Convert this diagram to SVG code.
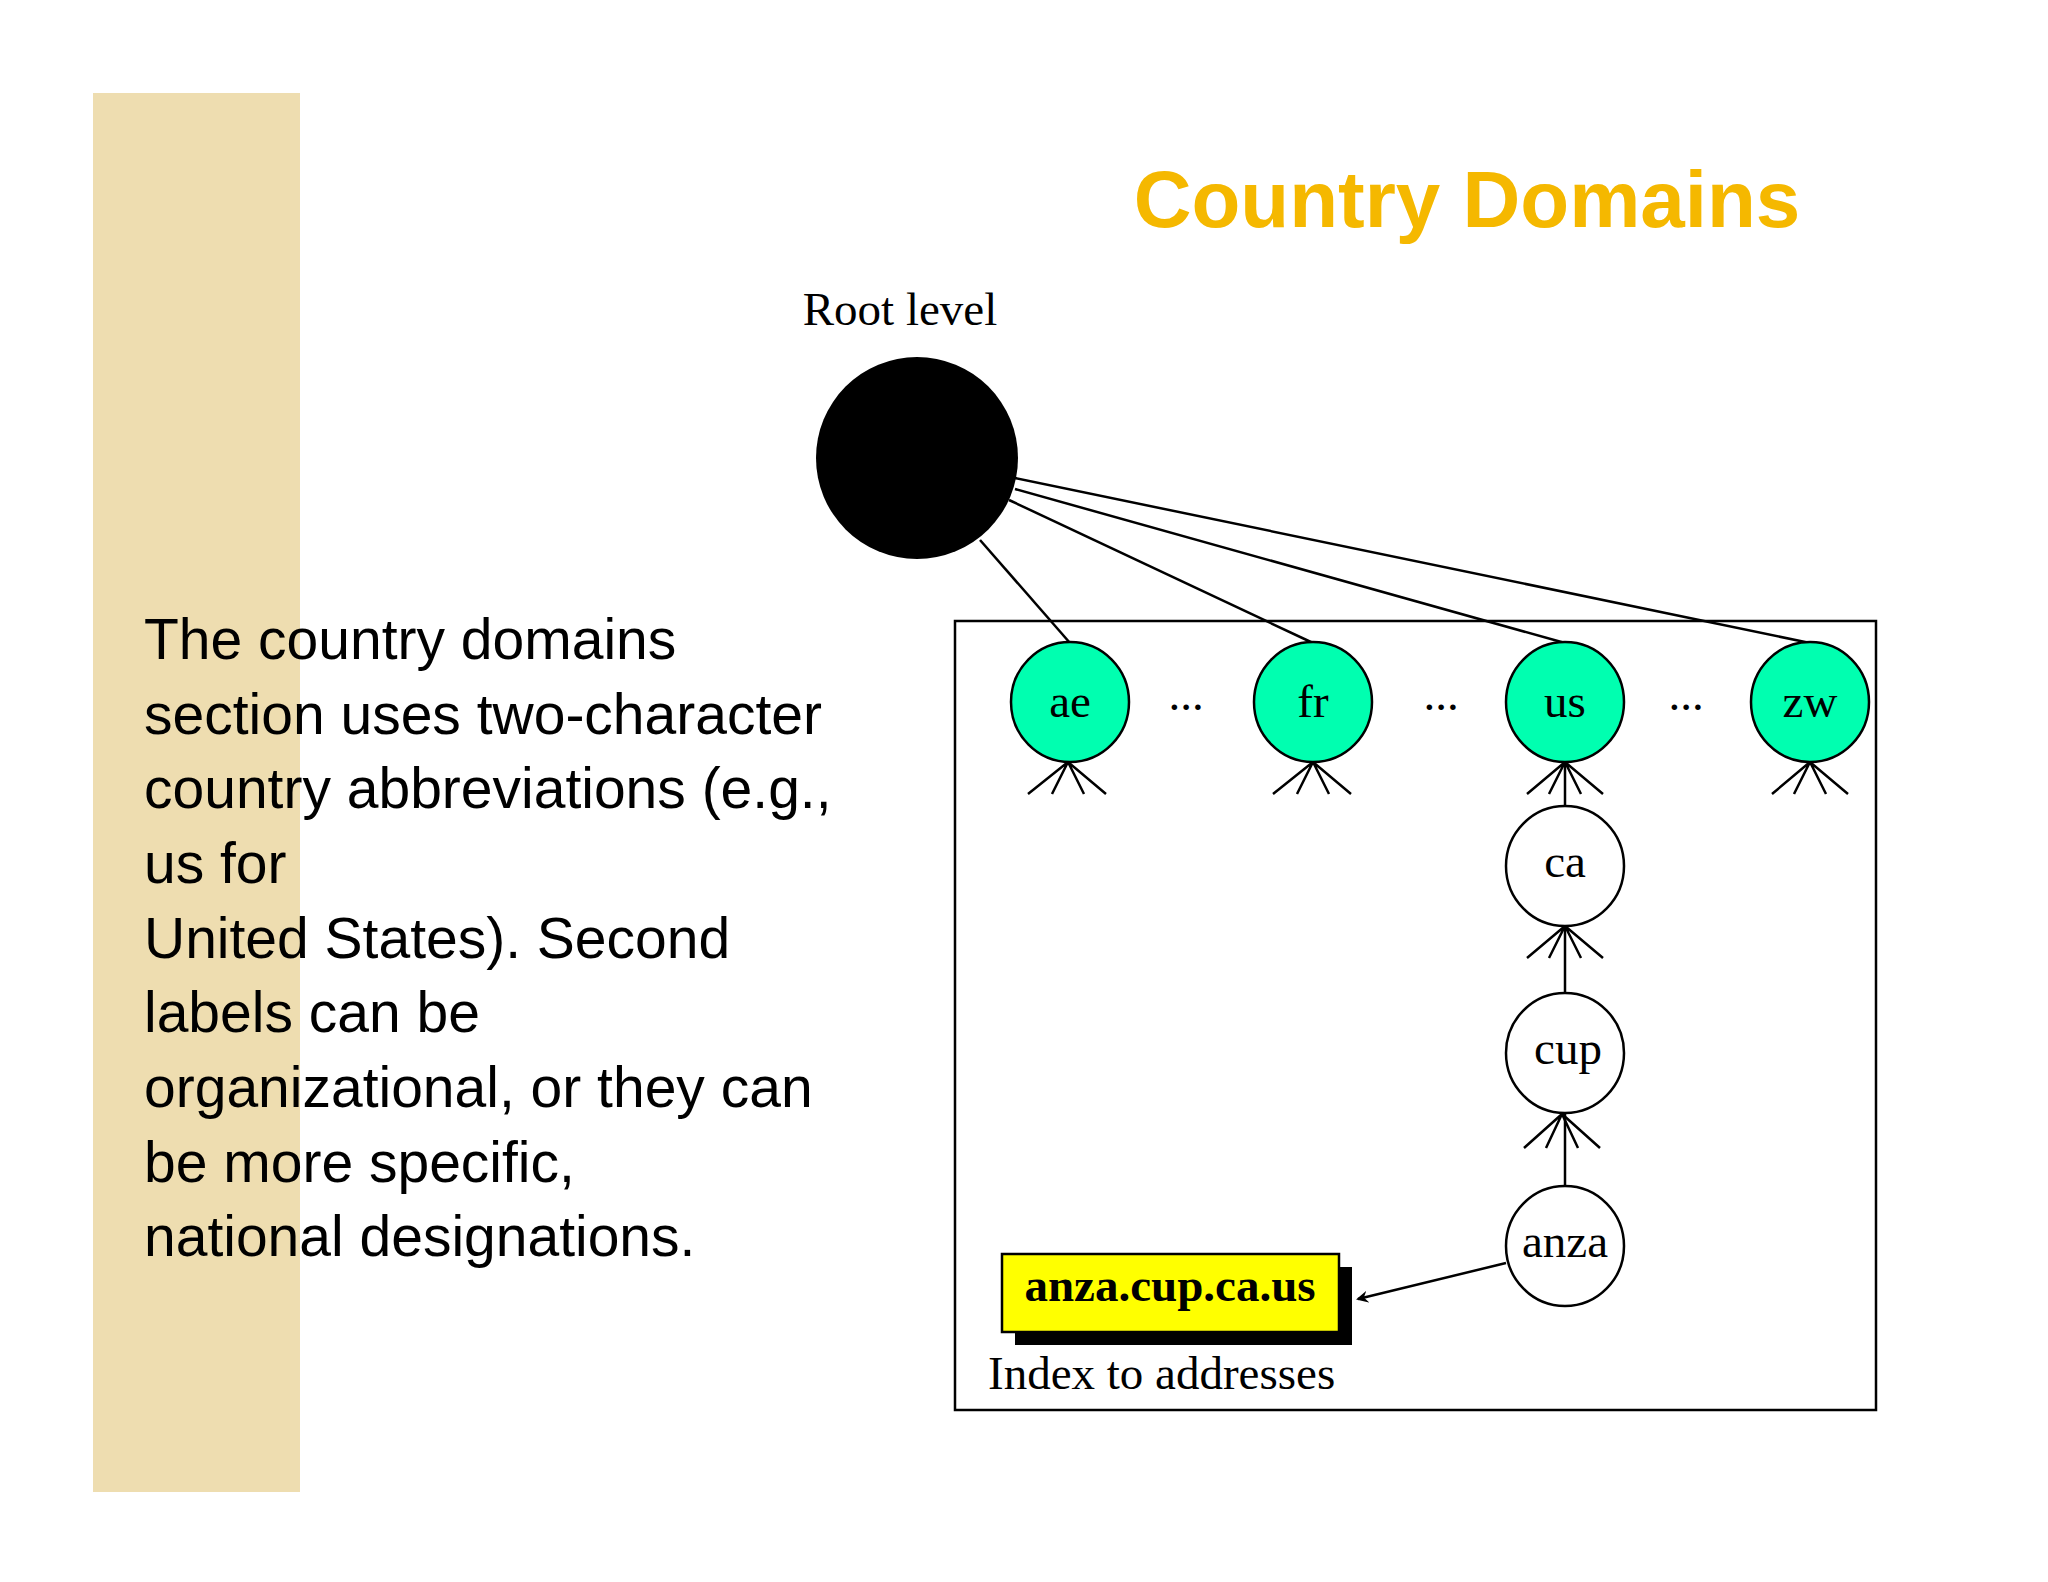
<svg xmlns="http://www.w3.org/2000/svg" width="2048" height="1582" viewBox="0 0 2048 1582">
<defs>
<style>
.t{font-family:"Liberation Serif",serif;font-size:47px;fill:#000}
.b{font-family:"Liberation Sans",sans-serif;font-size:57px;fill:#000}
.g{fill:#00FFB0;stroke:#000;stroke-width:2.5}
.w{fill:#fff;stroke:#000;stroke-width:2.5}
.l{stroke:#000;stroke-width:2.5;fill:none}
</style>
<marker id="ah" markerWidth="12" markerHeight="12" refX="10" refY="6" orient="auto" markerUnits="userSpaceOnUse"><path d="M0,0 L12,6 L0,12 L4,6 Z" fill="#000"/></marker>
</defs>
<rect width="2048" height="1582" fill="#fff"/>
<rect x="93" y="93" width="207" height="1399" fill="#EEDDB0"/>
<text x="1467" y="227" text-anchor="middle" font-family="Liberation Sans,sans-serif" font-weight="bold" font-size="80" fill="#F5B800">Country Domains</text>
<g id="body">
<text class="b" x="144" y="659">The country domains</text>
<text class="b" x="144" y="734">section uses two-character</text>
<text class="b" x="144" y="808">country abbreviations (e.g.,</text>
<text class="b" x="144" y="883">us for</text>
<text class="b" x="144" y="958">United States). Second</text>
<text class="b" x="144" y="1032">labels can be</text>
<text class="b" x="144" y="1107">organizational, or they can</text>
<text class="b" x="144" y="1182">be more specific,</text>
<text class="b" x="144" y="1256">national designations.</text>
</g>
<rect x="955" y="621" width="921" height="789" fill="none" stroke="#000" stroke-width="2.5"/>
<g id="connectors">
<line class="l" x1="980" y1="540" x2="1070" y2="643"/>
<line class="l" x1="1009" y1="500" x2="1313" y2="643"/>
<line class="l" x1="1015" y1="489" x2="1565" y2="643"/>
<line class="l" x1="1015" y1="478" x2="1810" y2="643"/>
<line class="l" x1="1565" y1="762" x2="1565" y2="807"/>
<line class="l" x1="1565" y1="925" x2="1565" y2="994"/>
<line class="l" x1="1565" y1="1112" x2="1565" y2="1187"/>
<line class="l" x1="1506" y1="1263" x2="1358" y2="1299" marker-end="url(#ah)"/>
<path class="l" d="M1028,794 L1068,762 L1052,794 M1068,762 L1084,794 M1068,762 L1106,794"/>
<path class="l" d="M1273,794 L1313,762 L1297,794 M1313,762 L1329,794 M1313,762 L1351,794"/>
<path class="l" d="M1527,794 L1565,762 L1549,794 M1565,762 L1581,794 M1565,762 L1603,794"/>
<path class="l" d="M1772,794 L1810,762 L1794,794 M1810,762 L1826,794 M1810,762 L1848,794"/>
<path class="l" d="M1527,958 L1565,926 L1549,958 M1565,926 L1581,958 M1565,926 L1603,958"/>
<path class="l" d="M1524,1148 L1562,1114 L1546,1148 M1562,1114 L1578,1148 M1562,1114 L1600,1148"/>
</g>
<g id="root"><circle cx="917" cy="458" r="101" fill="#000"/><text class="t" x="900" y="325" text-anchor="middle">Root level</text></g>
<g id="ae"><ellipse class="g" cx="1070" cy="702" rx="59" ry="60"/><text class="t" x="1070" y="717" text-anchor="middle">ae</text></g>
<g id="fr"><ellipse class="g" cx="1313" cy="702" rx="59" ry="60"/><text class="t" x="1313" y="717" text-anchor="middle">fr</text></g>
<g id="us"><ellipse class="g" cx="1565" cy="702" rx="59" ry="60"/><text class="t" x="1565" y="717" text-anchor="middle">us</text></g>
<g id="zw"><ellipse class="g" cx="1810" cy="702" rx="59" ry="60"/><text class="t" x="1810" y="717" text-anchor="middle">zw</text></g>
<g id="dots">
<text class="t" x="1186" y="710" text-anchor="middle">...</text>
<text class="t" x="1441" y="710" text-anchor="middle">...</text>
<text class="t" x="1686" y="710" text-anchor="middle">...</text>
</g>
<g id="ca"><ellipse class="w" cx="1565" cy="866" rx="59" ry="60"/><text class="t" x="1565" y="877" text-anchor="middle">ca</text></g>
<g id="cup"><ellipse class="w" cx="1565" cy="1053" rx="59" ry="60"/><text class="t" x="1568" y="1064" text-anchor="middle">cup</text></g>
<g id="anza"><ellipse class="w" cx="1565" cy="1246" rx="59" ry="60"/><text class="t" x="1565" y="1257" text-anchor="middle">anza</text></g>
<g id="address">
<rect x="1015" y="1267" width="337" height="78" fill="#000"/>
<rect x="1002" y="1254" width="337" height="78" fill="#FFFF00" stroke="#000" stroke-width="2.5"/>
<text class="t" x="1170" y="1301" text-anchor="middle" font-weight="bold" fill="#2a0000">anza.cup.ca.us</text>
<text class="t" x="988" y="1389">Index to addresses</text>
</g>
</svg>
